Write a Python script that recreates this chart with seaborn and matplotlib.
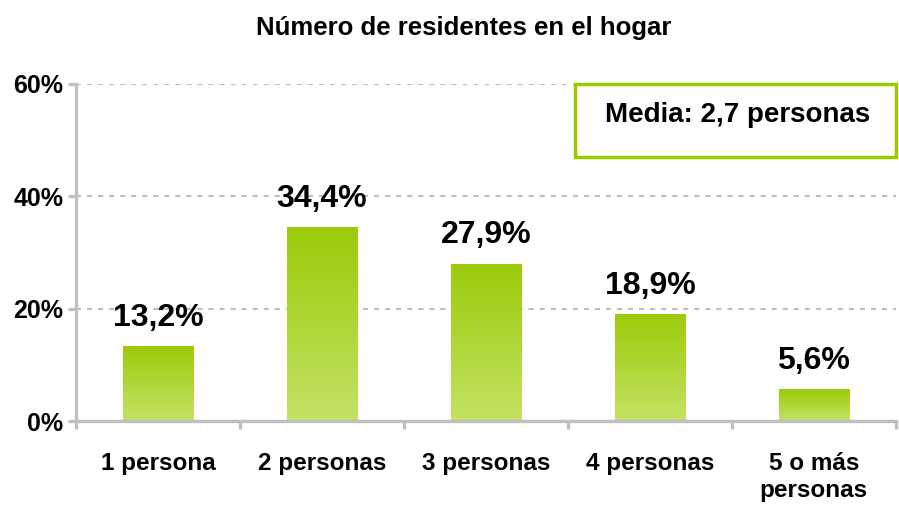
import numpy as np
import pandas as pd
import seaborn as sns
import matplotlib.pyplot as plt
from matplotlib.patches import Rectangle
from matplotlib.ticker import FuncFormatter, FixedLocator

# データ
categorias = ["1 persona", "2 personas", "3 personas", "4 personas", "5 o más\npersonas"]
porcentajes = [13.2, 34.4, 27.9, 18.9, 5.6]
etiquetas = ["13,2%", "34,4%", "27,9%", "18,9%", "5,6%"]
titulo = "Número de residentes en el hogar"
texto_media = "Media: 2,7 personas"

df = pd.DataFrame({"categoria": categorias, "porcentaje": porcentajes})

sns.set_style("white")
plt.rcParams["font.family"] = ["Liberation Sans", "DejaVu Sans"]
plt.rcParams["font.weight"] = "bold"
plt.rcParams["text.color"] = "black"
plt.rcParams["xtick.labelcolor"] = "black"
plt.rcParams["ytick.labelcolor"] = "black"

gris = "#C0C0C0"
verde_top = np.array([155, 203, 10]) / 255
verde_bot = np.array([196, 226, 100]) / 255

fig = plt.figure(figsize=(8.99, 5.05), dpi=100)
ax = fig.add_axes([0.0845, 0.1663, 0.912, 0.6674])

sns.barplot(data=df, x="categoria", y="porcentaje", width=0.43, ax=ax,
            color=verde_top, edgecolor="none", zorder=3)

# グラデーション
grad = np.linspace(0, 1, 256)[:, None, None]
img = verde_top * (1 - grad) + verde_bot * grad
for p in ax.patches:
    x0, y0 = p.get_x(), p.get_y()
    w, h = p.get_width(), p.get_height()
    p.set_facecolor("none")
    ax.imshow(img, extent=[x0, x0 + w, y0, y0 + h], aspect="auto",
              interpolation="bilinear", zorder=3)

ax.set_xlim(-0.5, len(categorias) - 0.5)
ax.set_ylim(0, 60)

# ラベル
for p, lab in zip(ax.patches, etiquetas):
    ax.annotate(lab, (p.get_x() + p.get_width() / 2, p.get_height()),
                xytext=(0, 10), textcoords="offset points",
                ha="center", va="bottom", fontsize=23, fontweight="bold")

# 軸
ax.yaxis.set_major_locator(FixedLocator([0, 20, 40, 60]))
ax.yaxis.set_major_formatter(FuncFormatter(lambda v, _: f"{v:.0f}%"))
ax.grid(axis="y", color="#BDBDBD", linestyle=(0, (2.4, 2.9)), linewidth=1.5, zorder=0)
ax.set_axisbelow(True)
for s in ["top", "right"]:
    ax.spines[s].set_visible(False)
for s in ["left", "bottom"]:
    ax.spines[s].set_color(gris)
    ax.spines[s].set_linewidth(2.4)
    ax.spines[s].set_zorder(4)

ax.tick_params(axis="y", length=6, width=2.4, color=gris, pad=3, labelsize=18, left=True)
ax.tick_params(axis="x", which="major", length=0, pad=22, labelsize=17.5)
ax.set_xticks(np.arange(-0.5, len(categorias)), minor=True)
ax.tick_params(axis="x", which="minor", length=6, width=2.4, color=gris, bottom=True)
for t in ax.get_xticklabels() + ax.get_yticklabels():
    t.set_fontweight("bold")
for t in ax.get_xticklabels():
    t.set_linespacing(1.25)
ax.set_xlabel("")
ax.set_ylabel("")

fig.text(0.516, 0.945, titulo, ha="center", va="center", fontsize=18.5, fontweight="bold")

# 平均ボックス
fig.patches.append(Rectangle((0.64, 0.69), 0.357, 0.143, transform=fig.transFigure,
                             facecolor="white", edgecolor="#99CC00", linewidth=2.5,
                             zorder=5))
fig.text(0.82, 0.772, texto_media, ha="center", va="center", fontsize=20,
         fontweight="bold", zorder=6)

fig.savefig("out.png", dpi=100)
